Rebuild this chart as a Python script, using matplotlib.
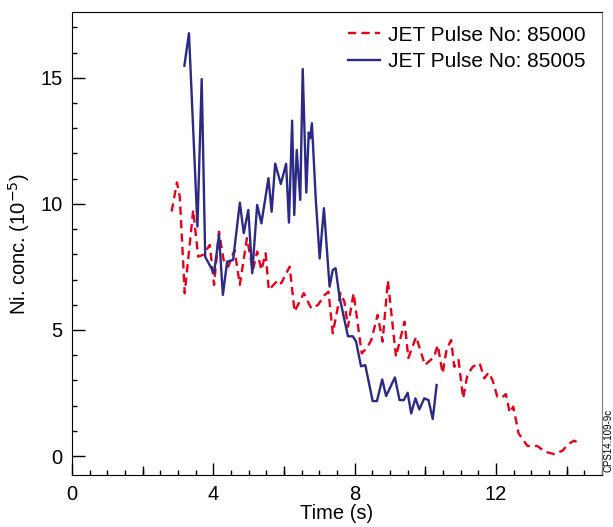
import matplotlib
matplotlib.use('Agg')
import matplotlib.pyplot as plt
from matplotlib.ticker import MultipleLocator, FixedLocator, NullFormatter

plt.rcParams['font.family'] = ['Liberation Sans', 'DejaVu Sans']

# JET Pulse No: 85000 (red dashed)
t_85000 = [2.82, 2.97, 3.05, 3.19, 3.43, 3.57, 3.71, 3.90, 4.02, 4.16, 4.29, 4.42, 4.60, 4.75,
           4.95, 5.12, 5.24, 5.36, 5.48, 5.57, 5.83, 5.92, 6.16, 6.30, 6.56, 6.77, 6.96, 7.15,
           7.26, 7.38, 7.60, 7.71, 7.81, 7.97, 8.20, 8.37, 8.47, 8.65, 8.79, 8.94, 9.17, 9.41,
           9.52, 9.74, 9.99, 10.25, 10.35, 10.49, 10.60, 10.73, 10.82, 10.94, 11.07, 11.19,
           11.34, 11.54, 11.67, 11.79, 11.90, 12.04, 12.18, 12.28, 12.39, 12.49, 12.64, 12.89,
           13.17, 13.39, 13.64, 13.88, 14.05, 14.21, 14.40]
ni_85000 = [9.7, 10.85, 10.29, 6.46, 9.76, 7.91, 7.98, 8.37, 6.79, 8.90, 7.78, 7.51, 8.17, 6.79,
            8.64, 7.38, 8.11, 7.38, 8.04, 6.59, 6.98, 6.85, 7.51, 5.73, 6.46, 5.86, 5.99, 6.39,
            6.52, 4.87, 6.46, 6.12, 5.13, 6.46, 4.07, 4.34, 4.60, 5.6, 4.54, 6.96, 3.94, 5.33,
            3.89, 4.73, 3.61, 3.94, 4.40, 3.28, 4.21, 4.60, 3.54, 3.81, 2.29, 3.21,
            3.54, 3.68, 3.08, 3.31, 3.02, 2.35, 2.33, 2.46, 1.72, 1.96, 0.90, 0.40,
            0.40, 0.17, 0.08, 0.21, 0.48, 0.61, 0.48]

# JET Pulse No: 85005 (blue solid)
t_85005 = [3.18, 3.31, 3.55, 3.67, 3.77, 4.02, 4.16, 4.27, 4.39, 4.56, 4.75, 4.86, 4.99, 5.10,
           5.24, 5.36, 5.56, 5.65, 5.75, 5.91, 6.06, 6.14, 6.23, 6.29, 6.36, 6.46, 6.53, 6.63,
           6.70, 6.74, 6.79, 6.90, 7.01, 7.13, 7.29, 7.38, 7.46, 7.57, 7.81, 7.95, 8.04, 8.18,
           8.30, 8.51, 8.63, 8.78, 8.89, 9.14, 9.27, 9.39, 9.50, 9.60, 9.72, 9.83, 9.97, 10.09,
           10.21, 10.32]
ni_85005 = [15.48, 16.77, 9.1, 14.95, 7.9, 7.25, 8.77, 6.39, 7.71, 7.78, 10.05, 8.84, 9.76, 7.25,
            9.96, 9.23, 11.02, 9.69, 11.6, 10.79, 11.59, 9.26, 13.3, 9.56, 12.14, 10.16, 15.35, 10.45,
            12.83, 12.6, 13.2, 10.16, 7.84, 9.83, 6.72, 7.38, 7.45, 6.32, 4.75, 4.75, 4.54, 3.56,
            3.61, 2.18, 2.18, 3.04, 2.38, 3.12, 2.22, 2.22, 2.51, 1.69, 2.29, 1.85, 2.29, 2.22,
            1.47, 2.82]

red = '#e3001b'
blue = '#2b2a85'

fig = plt.figure(figsize=(6.13, 5.27), dpi=100)
ax = fig.add_axes([0.1175, 0.0987, 0.8645, 0.878])

ax.plot(t_85000, ni_85000, color=red, lw=1.7, linestyle=(0, (3.5, 2.2)), label='JET Pulse No: 85000')
ax.plot(t_85005, ni_85005, color=blue, lw=1.7, label='JET Pulse No: 85005')

ax.set_xlim(0, 15)
ax.set_ylim(-0.75, 17.6)

ax.xaxis.set_major_locator(FixedLocator([0, 4, 8, 12]))
ax.xaxis.set_minor_locator(MultipleLocator(0.5))
ax.yaxis.set_major_locator(MultipleLocator(5))
ax.yaxis.set_minor_locator(MultipleLocator(1))
ax.tick_params(which='major', direction='in', length=9, width=1, labelsize=14.5, pad=7)
ax.tick_params(which='minor', direction='in', length=3.5, width=1)

# medium ticks at 2, 6, 10, 14
sec = ax.secondary_xaxis('bottom')
sec.xaxis.set_major_locator(FixedLocator([2, 6, 10, 14]))
sec.xaxis.set_major_formatter(NullFormatter())
sec.tick_params(direction='in', length=6.5, width=1)
sec.spines['bottom'].set_visible(False)

ax.spines['right'].set_color('#808080')

ax.set_xlabel('Time (s)', fontsize=14.5, labelpad=0.5)
ax.set_ylabel('Ni. conc. (10$^{-5}$)', fontsize=14.5, labelpad=6)

ax.legend(loc='upper right', bbox_to_anchor=(0.9906, 0.9957), frameon=False, fontsize=15,
          handlelength=1.5, handletextpad=0.4, borderaxespad=0.15, labelspacing=0.35)

fig.text(0.992, 0.105, 'CPS14.109-9c', rotation=90, fontsize=7, ha='center', va='bottom')

fig.savefig('out.png', dpi=100)
